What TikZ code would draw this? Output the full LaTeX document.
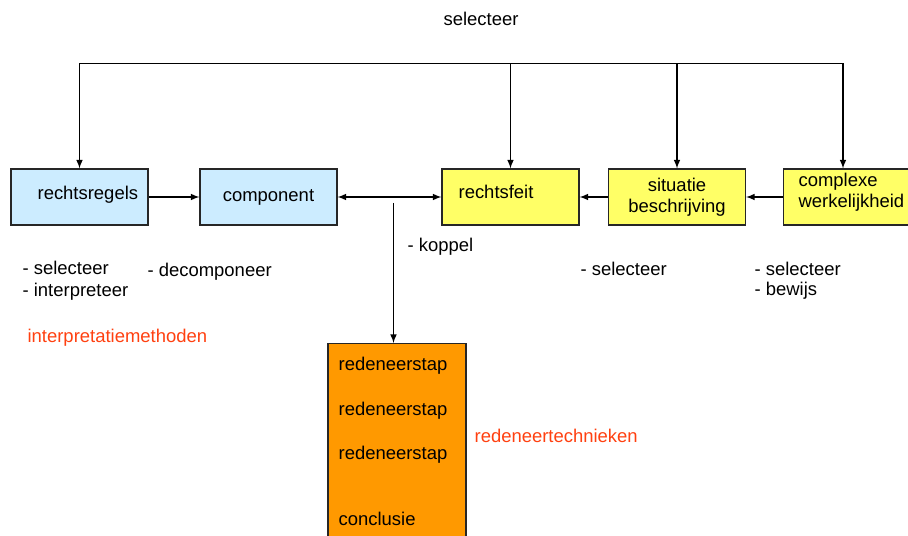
\documentclass[tikz,border=0pt]{standalone}
\usepackage{fontspec}
\setmainfont{Liberation Sans}
\definecolor{lichtblauw}{RGB}{204,236,255}
\definecolor{geel}{RGB}{255,255,102}
\definecolor{oranje}{RGB}{255,153,0}
\definecolor{rood}{RGB}{255,64,16}
\tikzstyle{field}=[rectangle,draw=black!85,line width=0.6pt,minimum width=2.74cm,minimum height=1.12cm,inner sep=0pt,align=center]
\tikzstyle{txt}=[anchor=base west,inner sep=0pt]

\begin{document}
\begin{tikzpicture}[>=latex,x=0.02cm,y=-0.02cm,line width=0.7pt,font=\fontsize{10.5}{12}\selectfont]
	\useasboundingbox (0,0) rectangle (908,536);

	% Boxes
	\node[field,fill=lichtblauw] (rr) at (79.5,197) {};
	\node[field,fill=lichtblauw] (comp) at (268.5,197) {component};
	\node[field,fill=geel] (rf) at (510.5,197) {};
	\node[field,fill=geel] (sb) at (677,197) {situatie\\beschrijving};
	\node[field,fill=geel] (cw) at (851.5,197) {};
	\node[field,fill=oranje,minimum width=2.76cm,minimum height=4.3cm,anchor=north] (rs) at (397,343) {};

	\node[txt] at (37,200) {rechtsregels};
	\node[txt] at (458,199) {rechtsfeit};
	\node[anchor=west,inner sep=0pt,align=left] at (798,192) {complexe\\werkelijkheid};

	\node[txt] at (338,370) {redeneerstap};
	\node[txt] at (338,415) {redeneerstap};
	\node[txt] at (338,459) {redeneerstap};
	\node[txt] at (338,525) {conclusie};

	% Connectors
	\coordinate (tl) at (79.5,63.5);
	\coordinate (tr) at (843,63.5);
	\draw (tl) -- (tr);
	\draw[->] (tl) -- (rr.north);
	\draw[->] (rf.north |- tl) -- (rf.north);
	\draw[->] (sb.north |- tl) -- (sb.north);
	\draw[->] (tr) -- (tr |- cw.north);

	\draw[->] (rr.east) -- (comp.west);
	\draw[<->] (comp.east) -- (rf.west);
	\draw[->] (sb.west) -- (rf.east);
	\draw[->] (cw.west) -- (sb.east);

	\coordinate (kp) at (393.5,203);
	\draw[->] (kp) -- (kp |- rs.north);

	% Labels
	\node[anchor=base,inner sep=0pt] at (481,26) {selecteer};
	\node[txt] at (22,275) {- selecteer};
	\node[txt] at (22,297) {- interpreteer};
	\node[txt] at (147,277) {- decomponeer};
	\node[txt,text=rood] at (27,342) {interpretatiemethoden};
	\node[txt] at (407,252) {- koppel};
	\node[txt] at (580,276) {- selecteer};
	\node[txt] at (754,276) {- selecteer};
	\node[txt] at (754,296) {- bewijs};
	\node[txt,text=rood] at (474,442) {redeneertechnieken};
\end{tikzpicture}
\end{document}
